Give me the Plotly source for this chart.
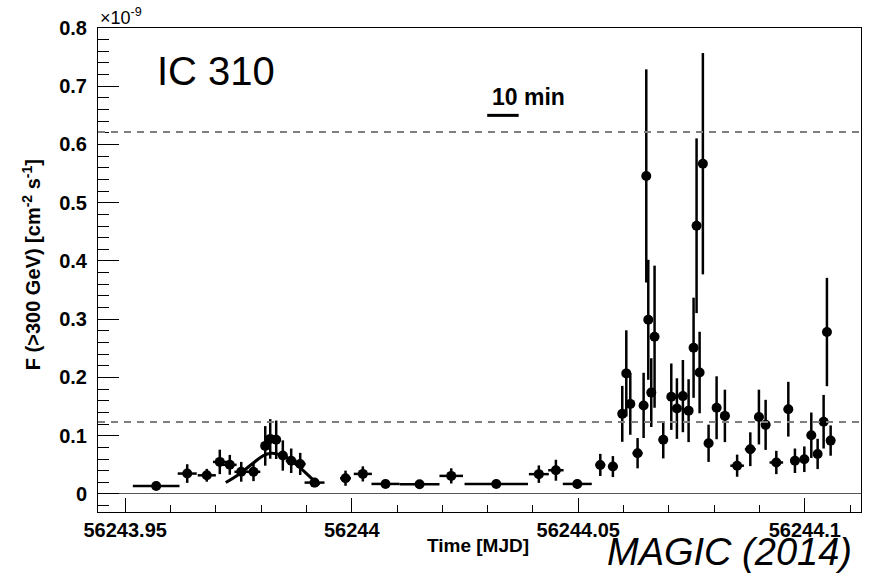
import plotly.graph_objects as go

# ---- data (flux in units of 1e-9 cm^-2 s^-1) ----
time_mjd = [
    56243.95684, 56243.96369, 56243.96801, 56243.97088, 56243.97309, 56243.97561,
    56243.97832, 56243.98091, 56243.98201, 56243.98333, 56243.98479, 56243.98664,
    56243.98863, 56243.99179, 56243.99863, 56244.00245, 56244.00746, 56244.01497,
    56244.02196, 56244.03190, 56244.04130, 56244.04506, 56244.04978,
    56244.05486, 56244.05764, 56244.05971, 56244.06060, 56244.06148, 56244.06309,
    56244.06442, 56244.06501, 56244.06545, 56244.06611, 56244.06684, 56244.06876,
    56244.07053, 56244.07177, 56244.07309, 56244.07435, 56244.07545, 56244.07611,
    56244.07678, 56244.07750, 56244.07876, 56244.08053, 56244.08236, 56244.08506,
    56244.08797, 56244.08987, 56244.09135, 56244.09371, 56244.09636, 56244.09782,
    56244.09989, 56244.10143, 56244.10283, 56244.10415, 56244.10488, 56244.10570,
]
flux = [
    0.0137, 0.035, 0.032, 0.055, 0.050, 0.038,
    0.038, 0.0825, 0.0945, 0.093, 0.066, 0.057,
    0.0515, 0.0195, 0.027, 0.0344, 0.0172, 0.0167,
    0.031, 0.0172, 0.034, 0.0407, 0.0172,
    0.0498, 0.047, 0.1375, 0.207, 0.1546, 0.070,
    0.152, 0.546, 0.299, 0.174, 0.270, 0.093,
    0.167, 0.1466, 0.168, 0.143, 0.251, 0.4605,
    0.2085, 0.567, 0.087, 0.148, 0.134, 0.0485,
    0.0768, 0.132, 0.1186, 0.054, 0.1455, 0.057,
    0.0596, 0.1008, 0.0687, 0.124, 0.278, 0.0916,
]
time_err = [
    0.00515, 0.0021, 0.0020, 0.0015, 0.0015, 0.0015,
    0.0015, 0.0010, 0.0010, 0.0010, 0.0010, 0.0012,
    0.0012, 0.0022, 0.0012, 0.0020, 0.0031, 0.0044,
    0.0026, 0.0070, 0.0022, 0.0017, 0.0032,
    0.0011, 0.0011, 0.0008, 0.0008, 0.0008, 0.0011,
    0.0008, 0.0006, 0.0006, 0.0006, 0.0006, 0.0010,
    0.0008, 0.0008, 0.0008, 0.0008, 0.0006, 0.0006,
    0.0006, 0.0006, 0.0010, 0.0010, 0.0010, 0.0015,
    0.0012, 0.0010, 0.0010, 0.0015, 0.0010, 0.0010,
    0.0010, 0.0008, 0.0008, 0.0006, 0.0006, 0.0008,
]
flux_err = [
    0.005, 0.016, 0.011, 0.021, 0.017, 0.017,
    0.016, 0.034, 0.034, 0.033, 0.026, 0.021,
    0.019, 0.008, 0.013, 0.013, 0.006, 0.006,
    0.013, 0.006, 0.015, 0.018, 0.008,
    0.019, 0.018, 0.048, 0.074, 0.053, 0.026,
    0.056, 0.183, 0.103, 0.059, 0.122, 0.032,
    0.057, 0.052, 0.062, 0.054, 0.086, 0.150,
    0.070, 0.190, 0.032, 0.054, 0.045, 0.019,
    0.029, 0.047, 0.043, 0.020, 0.047, 0.021,
    0.022, 0.039, 0.026, 0.046, 0.093, 0.026,
]

# fitted flare profile
fit_time = [56243.9722, 56243.9752, 56243.9782, 56243.9804, 56243.9822,
            56243.9844, 56243.9866, 56243.9892, 56243.9914, 56243.9929]
fit_flux = [0.0195, 0.0344, 0.0527, 0.0653, 0.070, 0.067, 0.058, 0.041, 0.025, 0.0155]

threshold_levels = [0.1235, 0.6215]

x_tickvals = [56243.95, 56244.0, 56244.05, 56244.1]
x_ticktext = ["56243.95", "56244", "56244.05", "56244.1"]
y_tickvals = [0, 0.1, 0.2, 0.3, 0.4, 0.5, 0.6, 0.7, 0.8]
y_ticktext = ["0", "0.1", "0.2", "0.3", "0.4", "0.5", "0.6", "0.7", "0.8"]

scale_start = 56244.0299
scale_minutes = 10
scale_level = 0.65

FONT = "Liberation Sans, Arial, Helvetica, sans-serif"

fig = go.Figure()

fig.add_trace(go.Scatter(
    x=fit_time, y=fit_flux, mode="lines",
    line=dict(color="black", width=3, shape="spline"),
    hoverinfo="skip", showlegend=False,
))

fig.add_trace(go.Scatter(
    x=time_mjd, y=flux, mode="markers",
    marker=dict(color="black", size=10, symbol="circle"),
    error_x=dict(type="data", array=time_err, color="black", thickness=2.5, width=0),
    error_y=dict(type="data", array=flux_err, color="black", thickness=2.5, width=0),
    showlegend=False,
))

for lvl in threshold_levels:
    fig.add_shape(type="line", xref="paper", x0=0, x1=1, yref="y", y0=lvl, y1=lvl,
                  line=dict(color="#7f7f7f", width=2, dash="7px,6px"))

# 10 min scale bar
fig.add_shape(type="line", xref="x", yref="y",
              x0=scale_start, x1=scale_start + scale_minutes / 1440.0,
              y0=scale_level, y1=scale_level,
              line=dict(color="black", width=3))

fig.update_layout(
    width=871, height=575,
    margin=dict(l=98, r=10, t=28, b=63),
    paper_bgcolor="white", plot_bgcolor="white",
    font=dict(family=FONT, color="black"),
)

fig.update_xaxes(
    range=[56243.944, 56244.1124],
    tickvals=x_tickvals, ticktext=["<b>%s</b>" % t for t in x_ticktext],
    ticks="inside", ticklen=14, tickwidth=1, tickcolor="black",
    minor=dict(dtick=0.01, tick0=56243.95, ticks="inside", ticklen=7, tickcolor="black"),
    showline=True, linecolor="black", linewidth=1, mirror=True,
    showgrid=False, zeroline=False,
    tickfont=dict(family=FONT, size=20, color="black"),
)
fig.update_yaxes(
    range=[-0.031, 0.8],
    tickvals=y_tickvals, ticktext=["<b>%s</b>" % t for t in y_ticktext],
    ticks="inside", ticklen=21, tickwidth=1, tickcolor="black",
    minor=dict(dtick=0.02, tick0=0, ticks="inside", ticklen=11, tickcolor="black"),
    showline=True, linecolor="black", linewidth=1, mirror=True,
    showgrid=False, zeroline=True, zerolinecolor="#555555", zerolinewidth=1,
    tickfont=dict(family=FONT, size=20, color="black"),
    ticklabelstandoff=6,
)

annotations = [
    dict(text="IC 310", x=0.1553, y=0.912, xanchor="center", yanchor="middle",
         font=dict(size=40, family=FONT)),
    dict(text="<b>10 min</b>", x=0.5646, y=0.857, xanchor="center", yanchor="middle",
         font=dict(size=23, family=FONT)),
    dict(text="×10<sup>-9</sup>", x=0.0, y=0.995, xanchor="left", yanchor="bottom",
         font=dict(size=18, family=FONT)),
    dict(text="<b>F (>300 GeV) [cm<sup>-2</sup> s<sup>-1</sup>]</b>", x=-0.0878, y=0.51,
         xanchor="center", yanchor="middle", textangle=-90,
         font=dict(size=20, family=FONT)),
    dict(text="<b>Time [MJD]</b>", x=0.498, y=-0.0702, xanchor="center", yanchor="middle",
         font=dict(size=19, family=FONT)),
    dict(text="<i>MAGIC (2014)</i>", x=0.827, y=-0.1302, xanchor="center", yanchor="bottom",
         font=dict(size=38, family=FONT)),
]
for a in annotations:
    a.update(xref="paper", yref="paper", showarrow=False)
    fig.add_annotation(**a)

fig.write_html("out.html")
